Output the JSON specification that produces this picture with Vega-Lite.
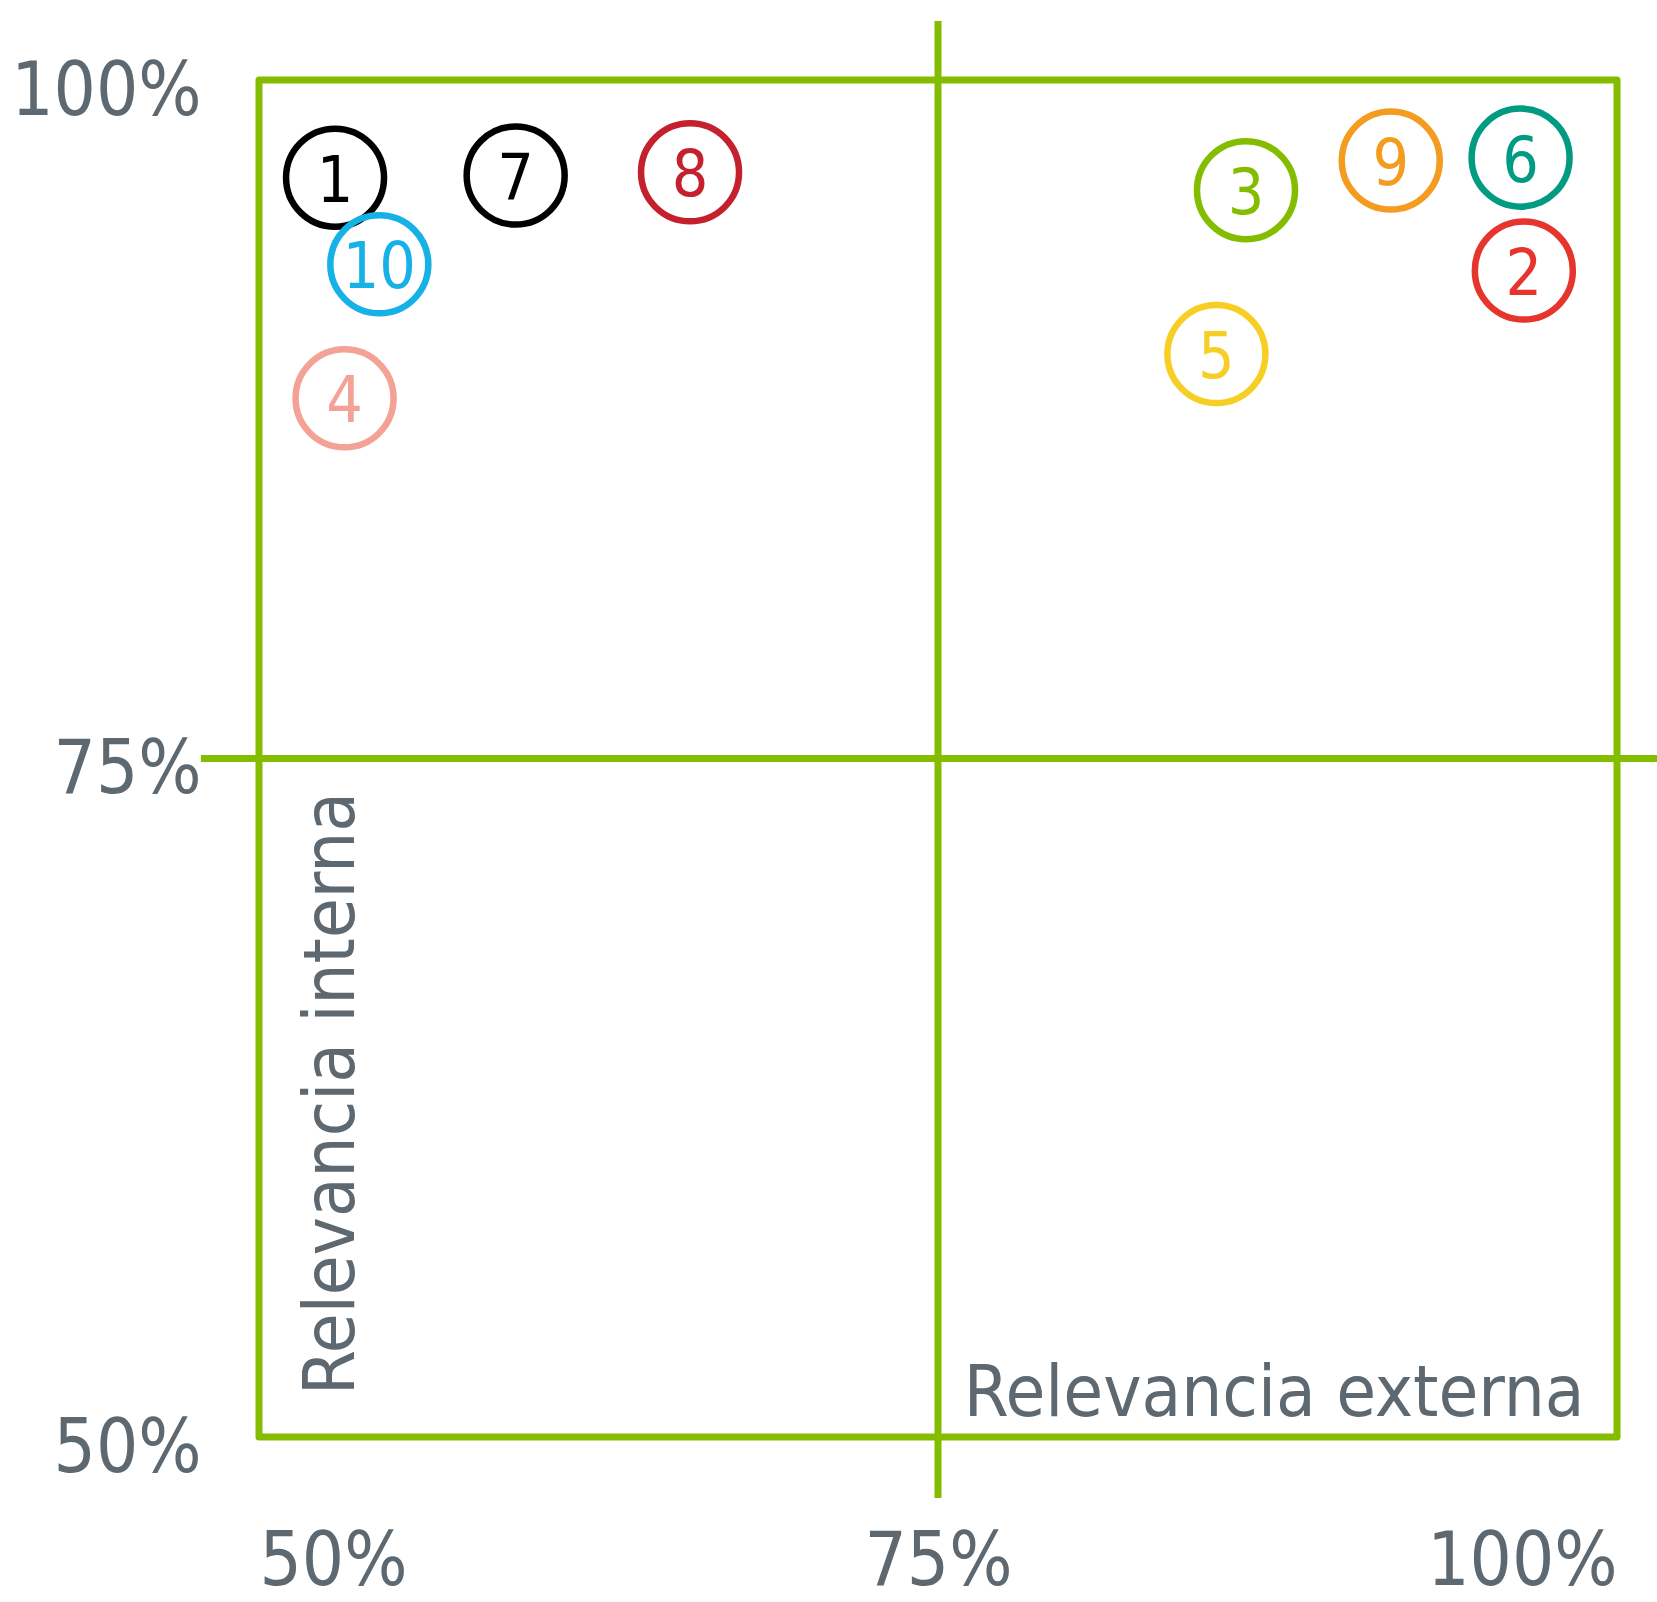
{
  "$schema": "https://vega.github.io/schema/vega-lite/v6.json",
  "width": 1358,
  "height": 1357,
  "autosize": {"type": "none"},
  "padding": {"left": 259, "top": 80, "right": 40, "bottom": 165},
  "background": "#ffffff",
  "config": {
    "view": {"stroke": "#84bd00", "strokeWidth": 7, "strokeJoin": "round"},
    "font": "'DejaVu Sans Condensed', sans-serif"
  },
  "datasets": {
    "points": [
      {"id": "1", "ext": 0.528, "int": 0.964},
      {"id": "2", "ext": 0.9657, "int": 0.9298},
      {"id": "3", "ext": 0.8634, "int": 0.9594},
      {"id": "4", "ext": 0.5315, "int": 0.8827},
      {"id": "5", "ext": 0.8525, "int": 0.899},
      {"id": "6", "ext": 0.9645, "int": 0.9714},
      {"id": "7", "ext": 0.5945, "int": 0.9648},
      {"id": "8", "ext": 0.6587, "int": 0.966},
      {"id": "9", "ext": 0.9167, "int": 0.9703},
      {"id": "10", "ext": 0.5443, "int": 0.9321}
    ],
    "rules": [
      {"x": 0.75, "x2": 0.75, "y": 1.0217, "y2": 0.4775},
      {"x": 0.4786, "x2": 1.03, "y": 0.75, "y2": 0.75}
    ]
  },
  "encoding": {
    "x": {"type": "quantitative", "scale": {"domain": [0.5, 1], "nice": false, "zero": false},
      "axis": {"values": [0.5, 0.75, 1], "format": ".0%", "title": null, "domain": false, "ticks": false, "grid": false,
        "labelFlush": true, "labelLimit": 0, "labelFontSize": 74, "labelColor": "#5e6870", "labelPadding": 89, "labelBaseline": "top"}},
    "y": {"type": "quantitative", "scale": {"domain": [0.5, 1], "nice": false, "zero": false},
      "axis": {"values": [0.5, 0.75, 1], "format": ".0%", "title": null, "domain": false, "ticks": false, "grid": false,
        "labelFlush": false, "labelLimit": 0, "labelFontSize": 74, "labelColor": "#5e6870", "labelPadding": 58, "labelOffset": 12}}
  },
  "layer": [
    {
      "data": {"name": "rules"},
      "mark": {"type": "rule", "color": "#84bd00", "strokeWidth": 7},
      "encoding": {
        "x": {"field": "x", "type": "quantitative"},
        "x2": {"field": "x2"},
        "y": {"field": "y", "type": "quantitative"},
        "y2": {"field": "y2"}
      }
    },
    {
      "data": {"name": "points"},
      "mark": {"type": "point", "shape": "circle", "filled": false, "size": 9600, "strokeWidth": 6.5, "opacity": 1},
      "encoding": {
        "x": {"field": "ext", "type": "quantitative"},
        "y": {"field": "int", "type": "quantitative"},
        "color": {"field": "id", "type": "nominal", "legend": null,
          "scale": {"domain": ["1","2","3","4","5","6","7","8","9","10"],
            "range": ["#000000","#e5352c","#84bd00","#f4a196","#f7cf24","#009b82","#000000","#c4202e","#f39c1f","#16b1e6"]}}
      }
    },
    {
      "data": {"name": "points"},
      "mark": {"type": "text", "fontSize": 64, "align": "center", "baseline": "middle", "dy": 5},
      "encoding": {
        "x": {"field": "ext", "type": "quantitative"},
        "y": {"field": "int", "type": "quantitative"},
        "text": {"field": "id"},
        "color": {"field": "id", "type": "nominal", "legend": null}
      }
    },
    {
      "data": {"values": [{"label": "Relevancia externa", "ext": 0.988, "int": 0.5077}]},
      "mark": {"type": "text", "fontSize": 72, "align": "right", "baseline": "alphabetic", "color": "#5e6870"},
      "encoding": {
        "x": {"field": "ext", "type": "quantitative"},
        "y": {"field": "int", "type": "quantitative"},
        "text": {"field": "label"}
      }
    },
    {
      "data": {"values": [{"label": "Relevancia interna", "ext": 0.535, "int": 0.5155}]},
      "mark": {"type": "text", "fontSize": 72, "align": "left", "baseline": "alphabetic", "angle": 270, "color": "#5e6870"},
      "encoding": {
        "x": {"field": "ext", "type": "quantitative"},
        "y": {"field": "int", "type": "quantitative"},
        "text": {"field": "label"}
      }
    }
  ]
}
